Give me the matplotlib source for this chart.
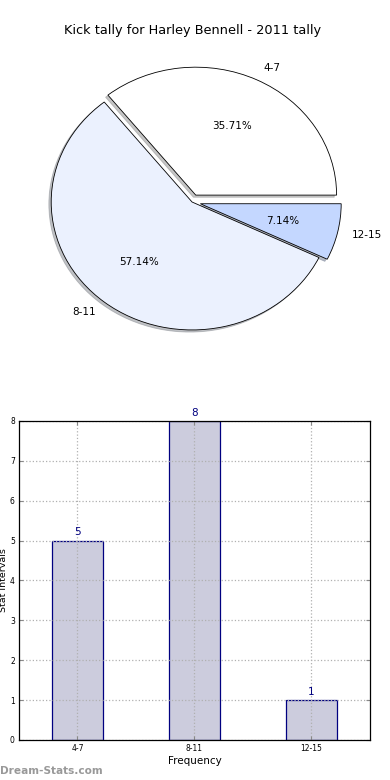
import numpy as np
import matplotlib as mpl
import matplotlib.pyplot as plt

mpl.rcParams['font.family'] = ['DejaVu Sans']
mpl.rcParams['axes.unicode_minus'] = False

# data
labels = ['4-7', '8-11', '12-15']
counts = [5, 8, 1]
pie_colors = ['#ffffff', '#ebf1fe', '#c4d7ff']
explode = [0.06, 0, 0.06]
y_ticks = [0, 1, 2, 3, 4, 5, 6, 7, 8]

fig = plt.figure(figsize=(3.9, 7.8), dpi=100, facecolor='w')

# pie chart on top
ax1 = fig.add_axes([0.041, 0.536, 0.903, 0.410])
wedges, texts, autotexts = ax1.pie(counts, labels=labels, colors=pie_colors, explode=explode,
                                   autopct='%1.2f%%', startangle=0,
                                   shadow={'ox': -0.012, 'oy': -0.012, 'shade': 0.45},
                                   wedgeprops={'edgecolor': 'black', 'linewidth': 0.6},
                                   textprops={'fontsize': 7.5})
ax1.set_aspect('auto')  # the original pie is stretched, not round
ax1.set_xlim(-1.25, 1.25)
ax1.set_ylim(-1.25, 1.25)
ax1.set_title('Kick tally for Harley Bennell - 2011 tally', fontsize=9.3, pad=6)

# bar chart below
ax2 = fig.add_axes([0.0487, 0.0513, 0.9, 0.409])
x = np.arange(len(labels))
ax2.bar(x, counts, width=0.44, color='#ccccdd', edgecolor='#000080', linewidth=0.9, zorder=1)
for xi, c in zip(x, counts):
    ax2.text(xi, c + 0.08, str(c), ha='center', va='bottom', color='#000080', fontsize=7.5)

ax2.set_xlim(-0.5, 2.5)
ax2.set_ylim(0, 8)
ax2.set_xticks(x)
ax2.set_xticklabels(labels)
ax2.set_yticks(y_ticks)
ax2.tick_params(direction='in', length=3, labelsize=5.5, top=True, right=True, color='#888888', pad=3)
ax2.set_axisbelow(False)
ax2.grid(True, color='#b0b0b0', linestyle=':', linewidth=0.9, zorder=2)
ax2.set_xlabel('Frequency', fontsize=7.5, labelpad=2)
ax2.set_ylabel('Stat Intervals', fontsize=6.8)
ax2.yaxis.set_label_coords(-0.031, 0.5)  # keep it inside the figure edge
for s in ax2.spines.values():
    s.set_linewidth(0.9)
    s.set_zorder(4)  # solid frame over the dotted grid

# watermark
fig.text(0.0, 0.012, 'Dream-Stats.com', color='#999999', fontsize=7.6, fontweight='bold', ha='left', va='center')

plt.savefig('out.png', dpi=100)
